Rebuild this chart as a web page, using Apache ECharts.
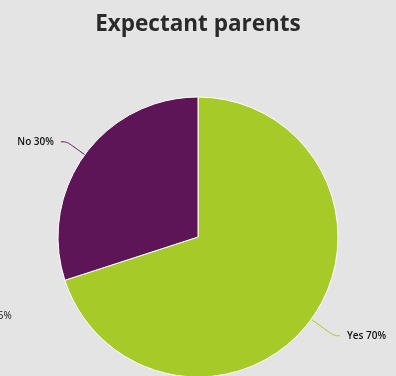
<!DOCTYPE html>
<html>
<head>
<meta charset="utf-8">
<script src="https://cdn.jsdelivr.net/npm/echarts@6/dist/echarts.min.js"></script>
<style>
  html, body { margin: 0; padding: 0; background: #e4e4e4; }
  #chart { width: 396px; height: 376px; }
</style>
</head>
<body>
<div id="chart"></div>
<script>
// Survey answers for expectant parents
const categories = ['Yes', 'No'];
const values = [70, 30];
const colors = ['#a6cb28', '#5e1558'];
const lineLengths = [28, 22];

const chart = echarts.init(document.getElementById('chart'), null, { renderer: 'canvas' });

chart.setOption({
  backgroundColor: '#e4e4e4',
  animation: false,
  title: {
    text: 'Expectant parents',
    left: 'center',
    top: 8,
    textStyle: {
      fontFamily: 'Open Sans',
      fontWeight: 'bold',
      fontSize: 22.5,
      color: '#2a2a2a'
    }
  },
  graphic: [{
    type: 'text',
    left: -8,
    top: 311,
    style: { text: '25%', font: '10px "Open Sans"', fill: '#111' }
  }],
  series: [{
    type: 'pie',
    center: [198, 237],
    radius: 140,
    startAngle: 90,
    clockwise: true,
    data: categories.map((c, i) => ({
      name: c,
      value: values[i],
      itemStyle: { color: colors[i] },
      labelLine: { length: lineLengths[i], lineStyle: { color: colors[i] } }
    })),
    itemStyle: { borderColor: '#ffffff', borderWidth: 1 },
    label: {
      formatter: p => p.name + ' ' + p.value + '%',
      fontFamily: 'Open Sans',
      fontSize: 10,
      fontWeight: 600,
      color: '#111',
      overflow: 'none',
      distanceToLabelLine: 7
    },
    labelLine: { show: true, smooth: 0.4, length2: 6 }
  }]
});
</script>
</body>
</html>
